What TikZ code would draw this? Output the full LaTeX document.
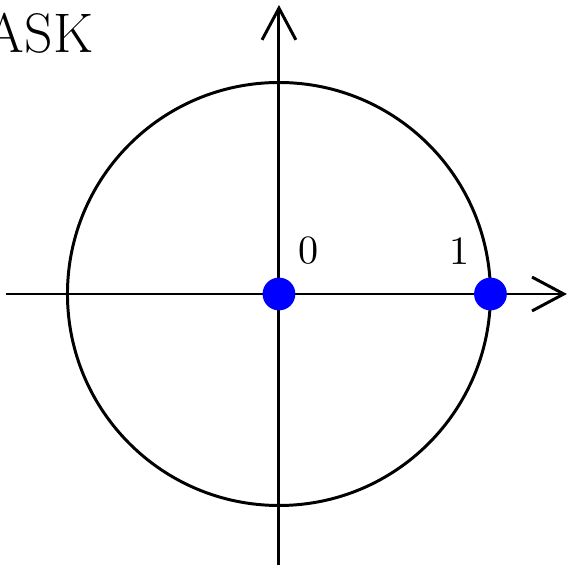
\documentclass[tikz,border=0pt]{standalone}
\usepackage{xcolor}
\usetikzlibrary{arrows.meta,positioning}
\tikzset{
  axis/.style={-{Straight Barb[length=3mm,width=3.2mm]}, line width=0.8pt},
  ring/.style={line width=0.8pt},
  pt/.style={circle, fill=blue, inner sep=0pt, minimum size=3.1mm},
  lbl/.style={font=\fontsize{10.8}{13}\selectfont, inner sep=1pt},
}
\begin{document}
\begin{tikzpicture}
  \useasboundingbox (-2.638,-2.610) rectangle (2.733,2.780);
  % axes
  \coordinate (xl) at (-2.582,0);
  \coordinate (xr) at (2.723,0);
  \coordinate (yb) at (0,-2.563);
  \coordinate (yt) at (0,2.733);
  \draw[axis] (xl) -- (xr);
  \draw[axis] (yb) -- (yt);
  % unit circle
  \draw[ring] (0,0) circle (2);
  % constellation points
  \node[pt] (zero) at (0,0) {};
  \node[pt] (one) at (2,0) {};
  \node[lbl] at (0.284,0.407) {0};
  \node[lbl] at (1.712,0.407) {1};
  \node[font=\fontsize{15}{18}\selectfont, inner sep=0pt, anchor=base east] (title) at (-1.75,2.288) {ASK};
\end{tikzpicture}
\end{document}
